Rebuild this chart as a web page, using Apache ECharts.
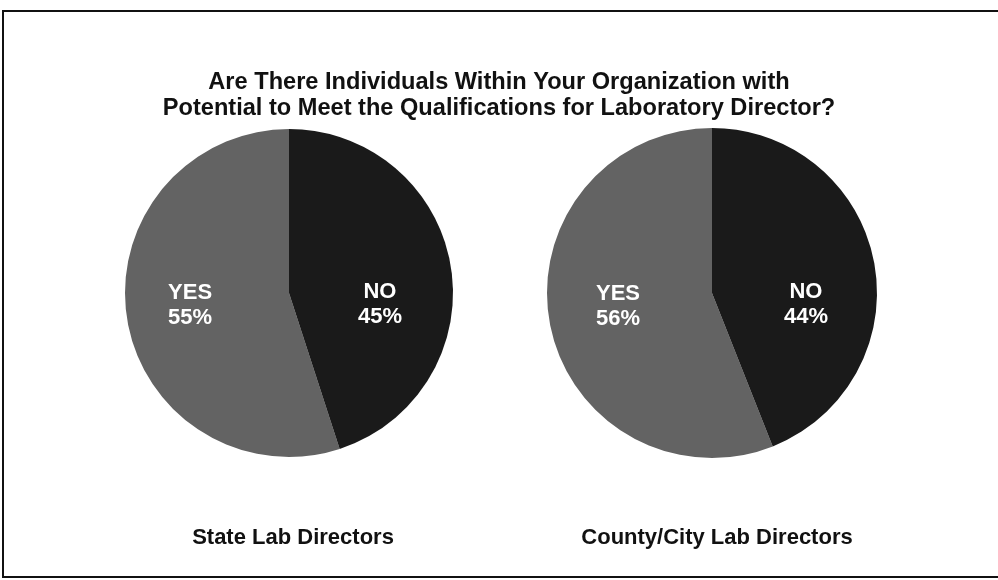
<!DOCTYPE html>
<html>
<head>
<meta charset="utf-8">
<script src="https://cdn.jsdelivr.net/npm/echarts@6/dist/echarts.min.js"></script>
<style>
html,body{margin:0;padding:0;background:#fff;}
#chart{width:998px;height:580px;}
</style>
</head>
<body>
<div id="chart"></div>
<script>
// ---- data ----
const titleLines = ['Are There Individuals Within Your Organization with', 'Potential to Meet the Qualifications for Laboratory Director?'];
const categories = ['YES', 'NO'];
const groups = ['State Lab Directors', 'County/City Lab Directors'];
const stateValues = [55, 45];
const countyValues = [56, 44];

// ---- styles ----
const sliceColors = ['#636363', '#1a1a1a'];
const FONT = '"Liberation Sans", Arial, sans-serif';
const centers = [[289, 293], [712, 293]];
const radii = [164, 165];
const captionX = [288, 712];
// label nudges (style only) so labels sit where the original placed them
const labelNudge = [[[-15, -1], [7, 25]], [[-10, -3], [10, 27]]];

function pieData(values) {
  return categories.map((c, i) => ({ name: c, value: values[i], itemStyle: { color: sliceColors[i] } }));
}

const allValues = [stateValues, countyValues];

const chart = echarts.init(document.getElementById('chart'), null, { renderer: 'canvas' });
chart.setOption({
  backgroundColor: '#ffffff',
  animation: false,
  title: [
    {
      text: titleLines.join('\n'),
      left: 'center', top: 64,
      textStyle: { fontFamily: FONT, fontSize: 23.6, fontWeight: 'bold', color: '#111', lineHeight: 26 }
    },
    ...groups.map((g, i) => ({
      text: g,
      left: captionX[i], top: 522,
      textAlign: 'center',
      textStyle: { fontFamily: FONT, fontSize: 22, fontWeight: 'bold', color: '#111' }
    }))
  ],
  graphic: [{
    type: 'rect', silent: true,
    shape: { x: 3, y: 11, width: 1000, height: 566 },
    style: { fill: 'none', stroke: '#111', lineWidth: 2 }
  }],
  series: allValues.map((vals, i) => ({
    type: 'pie',
    center: centers[i],
    radius: radii[i],
    startAngle: 90,
    clockwise: false,
    data: pieData(vals),
    label: {
      show: true, position: 'inside',
      formatter: '{b}\n{c}%',
      color: '#fff', fontFamily: FONT, fontSize: 22, fontWeight: 'bold', lineHeight: 25
    },
    labelLayout: (p) => ({ dx: labelNudge[i][p.dataIndex][0], dy: labelNudge[i][p.dataIndex][1] }),
    labelLine: { show: false },
    itemStyle: { borderWidth: 0 },
    emphasis: { disabled: true }
  }))
});
</script>
</body>
</html>
